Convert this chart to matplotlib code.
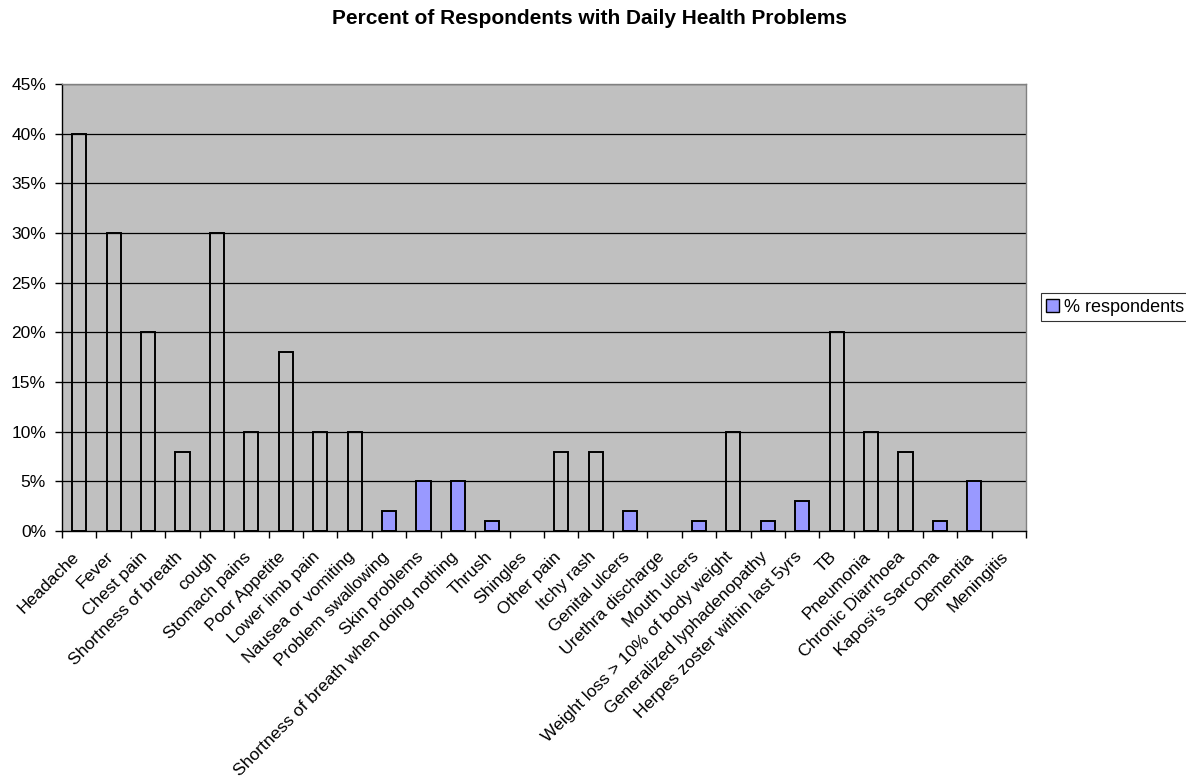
import matplotlib
matplotlib.use("Agg")
import matplotlib.pyplot as plt
import matplotlib.transforms as mtrans
from matplotlib.patches import Patch
import numpy as np

categories = ["Headache", "Fever", "Chest pain", "Shortness of breath", "cough",
              "Stomach pains", "Poor Appetite", "Lower limb pain", "Nausea or vomiting",
              "Problem swallowing", "Skin problems", "Shortness of breath when doing nothing",
              "Thrush", "Shingles", "Other pain", "Itchy rash", "Genital ulcers",
              "Urethra discharge", "Mouth ulcers", "Weight loss > 10% of body weight",
              "Generalized lyphadenopathy", "Herpes zoster within last 5yrs", "TB",
              "Pneumonia", "Chronic Diarrhoea", "Kaposi's Sarcoma", "Dementia", "Meningitis"]
values = [40, 30, 20, 8, 30, 10, 18, 10, 10, 2, 5, 5, 1, 0, 8, 8, 2, 0, 1, 10, 1, 3,
          20, 10, 8, 1, 5, 0]
series_name = "% respondents"

plt.rcParams['font.family'] = ['Liberation Sans', 'DejaVu Sans']

fig = plt.figure(figsize=(11.86, 7.84), dpi=100)
W, H = 1186, 784
left, right, top, bottom = 62, 1026, 84, 531
ax = fig.add_axes([left / W, 1 - bottom / H, (right - left) / W, (bottom - top) / H])
ax.set_facecolor('#C0C0C0')

x = np.arange(len(categories))
vals = np.array(values) / 100.0
blue = '#9999FF'
for xi, v in zip(x, vals):
    fc = blue if v <= 0.05 else 'none'
    if v > 0:
        ax.bar(xi, v, width=0.41, facecolor=fc, edgecolor='black', linewidth=1.4, zorder=3)

ax.set_xlim(-0.5, len(categories) - 0.5)
ax.set_ylim(0, 0.45)
yt = np.arange(0, 0.451, 0.05)
ax.set_yticks(yt)
ax.set_yticklabels([f"{int(round(t*100))}%" for t in yt], fontsize=12.5)
for t in yt[1:]:
    ax.axhline(t, color='black', linewidth=0.9, zorder=1)

ax.set_xticks(np.arange(-0.5, len(categories), 1.0))
ax.set_xticklabels([])
ax.set_xticks(x, minor=True)
ax.set_xticklabels(categories, minor=True, rotation=45, ha='right', va='top',
                   rotation_mode='anchor', fontsize=12.6)
ax.tick_params(axis='x', which='major', direction='out', length=5, width=1, color='black')
ax.tick_params(axis='x', which='minor', length=0, pad=13)
ax.tick_params(axis='y', direction='out', length=5, width=1, pad=6.5)
shift = mtrans.ScaledTranslation(-8 / 100, 0, fig.dpi_scale_trans)
for lab in ax.get_xticklabels(minor=True):
    lab.set_transform(lab.get_transform() + shift)

for s in ['top', 'right']:
    ax.spines[s].set_color('#808080')
    ax.spines[s].set_linewidth(1)
for s in ['left', 'bottom']:
    ax.spines[s].set_color('black')
    ax.spines[s].set_linewidth(1)

fig.text(589 / W, 1 - 19 / H, "Percent of Respondents with Daily Health Problems",
         ha='center', va='center', fontsize=15, fontweight='bold')

handle = Patch(facecolor=blue, edgecolor='black', linewidth=1)
leg = fig.legend([handle], [series_name], loc='center left',
                 bbox_to_anchor=(1041 / W, 1 - 307 / H), fontsize=13,
                 frameon=True, fancybox=False, edgecolor='black',
                 handlelength=0.7, handleheight=0.7, handletextpad=0.3,
                 borderpad=0.3, borderaxespad=0)
leg.get_frame().set_linewidth(0.8)

fig.savefig("out.png", dpi=100)
